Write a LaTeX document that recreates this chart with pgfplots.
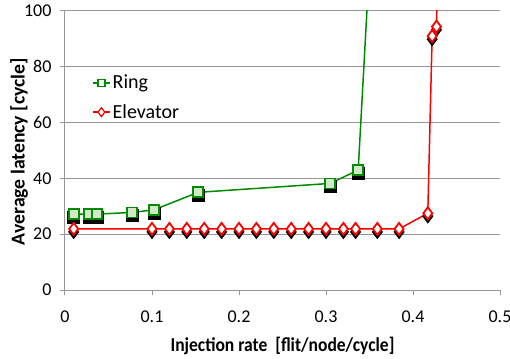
\documentclass[border=0pt]{standalone}
\usepackage{fontspec}
\setmainfont{Carlito}
\newfontfamily\narrowfont[FakeStretch=0.89]{Carlito}
\usepackage{pgfplots}
\pgfplotsset{compat=1.18}
\definecolor{ringgreen}{RGB}{0,140,0}
\definecolor{ringfill}{RGB}{210,232,200}
\definecolor{gridgray}{RGB}{150,150,150}
\begin{document}
\begin{tikzpicture}
\begin{axis}[
  name=ax,
  scale only axis,
  width=435pt, height=279pt,
  xmin=0, xmax=0.5, ymin=0, ymax=100,
  xtick={0,0.1,0.2,0.3,0.4,0.5},
  ytick={0,20,40,60,80,100},
  xticklabels={0,0.1,0.2,0.3,0.4,0.5},
  axis lines*=left,
  axis line style={gridgray, line width=1pt},
  tick align=outside,
  major tick length=5pt,
  tick style={gridgray, line width=1pt},
  ymajorgrids,
  grid style={gridgray, line width=1pt},
  ticklabel style={font=\fontsize{18}{20}\selectfont},
  xticklabel style={yshift=-12pt},
  yticklabel style={xshift=-5pt},
  /pgf/number format/assume math mode=true,
  xlabel={\narrowfont\bfseries Injection rate\ \ [flit/node/cycle]},
  ylabel={\bfseries Average latency [cycle]},
  label style={font=\fontsize{19.7}{22}\selectfont},
  xlabel style={at={(axis description cs:0.5,-0.2007)}, anchor=center},
  ylabel style={at={(axis description cs:-0.1057,0.496)}, anchor=center},
  legend style={at={(0.055,0.785)}, anchor=north west, draw=none, fill=none,
    font=\fontsize{20}{24}\selectfont, row sep=10pt},
  legend cell align=left,
  clip=true,
]
% extensions beyond the top
\addplot[ringgreen, line width=1.5pt, forget plot] coordinates {(0.337,43.0) (0.3523,130)};
\addplot[red, line width=1.5pt, forget plot] coordinates {(0.427,94.4) (0.429,130)};
% lines
\addplot[ringgreen, line width=1.5pt, forget plot] coordinates {
(0.010,27.2) (0.028,27.2) (0.037,27.2) (0.077,27.8) (0.102,28.7) (0.153,35.0) (0.305,38.2) (0.337,43.0)};
\addplot[red, line width=1.5pt, forget plot] coordinates {
(0.010,21.9) (0.100,21.9) (0.120,21.9) (0.140,21.9) (0.160,21.9) (0.180,21.9) (0.200,21.9)
(0.220,21.9) (0.240,21.9) (0.260,21.9) (0.280,21.9) (0.300,21.9) (0.320,21.9) (0.334,21.9)
(0.359,21.9) (0.384,21.9) (0.417,27.5) (0.422,91.0) (0.427,94.4)};
% shadows
\addplot[only marks, mark=square*, mark size=6pt, black, forget plot,
  mark options={yshift=-3pt, fill=black}] coordinates {
(0.010,27.2) (0.028,27.2) (0.037,27.2) (0.077,27.8) (0.102,28.7) (0.153,35.0) (0.305,38.2) (0.337,43.0)};
\addplot[only marks, mark=diamond*, mark size=7pt, black, forget plot,
  mark options={yshift=-3pt, fill=black}] coordinates {
(0.010,21.9) (0.100,21.9) (0.120,21.9) (0.140,21.9) (0.160,21.9) (0.180,21.9) (0.200,21.9)
(0.220,21.9) (0.240,21.9) (0.260,21.9) (0.280,21.9) (0.300,21.9) (0.320,21.9) (0.334,21.9)
(0.359,21.9) (0.384,21.9) (0.417,27.5) (0.422,91.0) (0.427,94.4)};
% marks
\addplot[only marks, mark=square*, mark size=5pt, forget plot,
  mark options={draw=ringgreen, fill=ringfill, line width=1.8pt}] coordinates {
(0.010,27.2) (0.028,27.2) (0.037,27.2) (0.077,27.8) (0.102,28.7) (0.153,35.0) (0.305,38.2) (0.337,43.0)};
\addplot[only marks, mark=diamond*, mark size=6pt, forget plot,
  mark options={draw=red, fill=white, line width=1.8pt}] coordinates {
(0.010,21.9) (0.100,21.9) (0.120,21.9) (0.140,21.9) (0.160,21.9) (0.180,21.9) (0.200,21.9)
(0.220,21.9) (0.240,21.9) (0.260,21.9) (0.280,21.9) (0.300,21.9) (0.320,21.9) (0.334,21.9)
(0.359,21.9) (0.384,21.9) (0.417,27.5) (0.422,91.0) (0.427,94.4)};
\addlegendimage{ringgreen, line width=1.5pt, mark=square*, mark size=3.5pt, mark options={draw=ringgreen, fill=white, line width=1.2pt}}
\addlegendentry{Ring}
\addlegendimage{red, line width=1.5pt, mark=diamond*, mark size=4.5pt, mark options={draw=red, fill=white, line width=1.2pt}}
\addlegendentry{Elevator}
\end{axis}
\pgfresetboundingbox
\path[use as bounding box] ([xshift=-65pt,yshift=-68pt]ax.south west) rectangle ([xshift=10pt,yshift=11pt]ax.north east);
\end{tikzpicture}
\end{document}
